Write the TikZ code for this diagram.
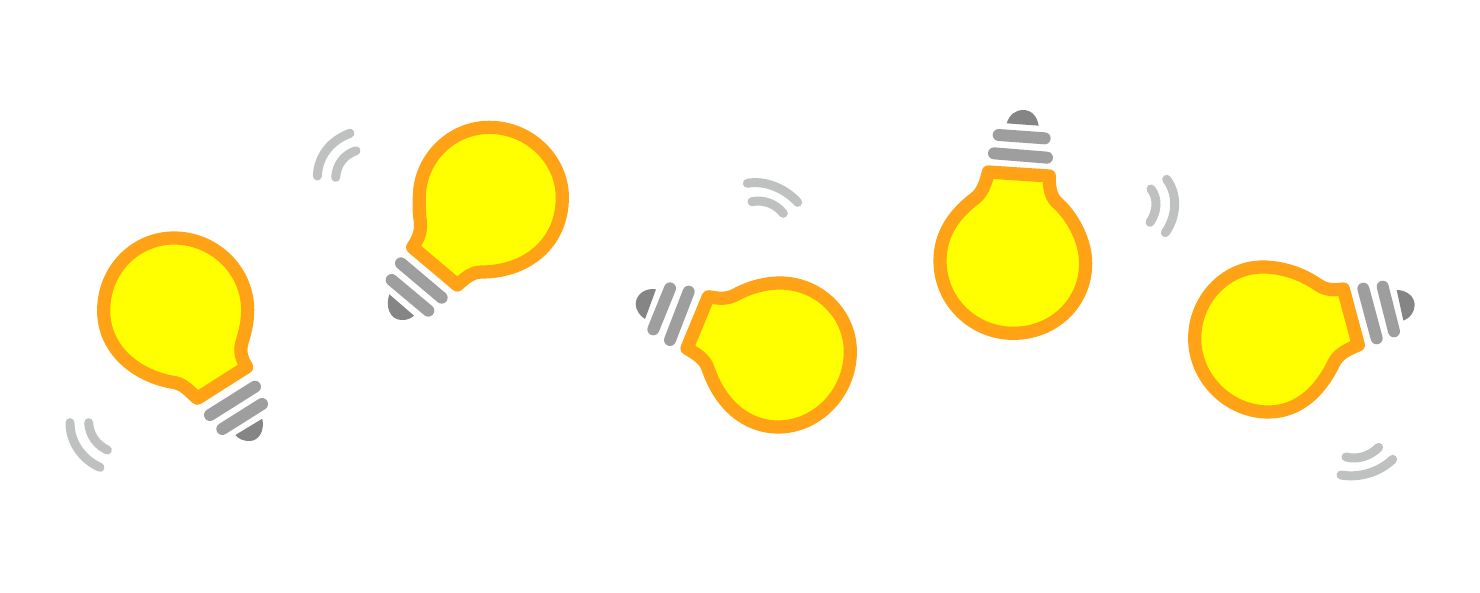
\documentclass[tikz,border=0pt]{standalone}
\definecolor{glassc}{HTML}{FFFF00}
\definecolor{rimc}{HTML}{FFA216}
\definecolor{barc}{HTML}{9E9E9E}
\definecolor{domec}{HTML}{858585}
\definecolor{wavec}{HTML}{BFC1C0}
\tikzset{
  glass/.style={fill=glassc,draw=rimc,line width=13.2pt,line join=round},
  thread/.style={draw=barc,line width=12pt,line cap=round},
  tipdome/.style={fill=domec,draw=none},
  wavearc/.style={draw=wavec,line width=9pt,line cap=round},
  zoomed/.style={x=0.33333pt,y=-0.33333pt}
}
\begin{document}
\begin{tikzpicture}[x=1pt,y=-1pt]
\useasboundingbox (0,0) rectangle (1480,592);
% bulb 1
\begin{scope}[xshift=50pt,yshift=-220pt,zoomed]
\draw[glass] (442,535) -- (590,441) .. controls (577,420) and (568,400) .. (575,370) .. controls (586,335) and (593,305) .. (593,270) .. controls (593,150) and (492,54) .. (372,54) .. controls (255,54) and (161,150) .. (161,272) .. controls (161,390) and (260,470) .. (375,488) .. controls (400,492) and (420,515) .. (442,535) -- cycle;
\draw[thread] (480,585) -- (615,500);
\draw[thread] (517,627) -- (636,552);
\fill[tipdome] (637,596) .. controls (645,635) and (625,662) .. (600,663) .. controls (585,664) and (565,658) .. (556,645) -- cycle;
\draw[wavearc] (60,608) .. controls (60,670) and (100,720) .. (150,742);
\draw[wavearc] (116,608) .. controls (118,645) and (140,675) .. (172,690);
\end{scope}
% bulb 2
\begin{scope}[xshift=300pt,yshift=-110pt,zoomed]
\draw[glass] (338,412) .. controls (352,390) and (365,370) .. (361,332) .. controls (356,305) and (358,285) .. (358,262) .. controls (358,150) and (450,52) .. (568,52) .. controls (690,52) and (787,150) .. (787,262) .. controls (787,400) and (680,486) .. (545,486) .. controls (515,486) and (495,505) .. (472,525) -- cycle;
\draw[thread] (303,460) -- (425,563);
\draw[thread] (275,510) -- (385,602);
\fill[tipdome] (268,553) .. controls (255,590) and (270,630) .. (305,630) .. controls (320,631) and (333,625) .. (342,617) -- cycle;
\draw[wavearc] (52,198) .. controls (55,135) and (95,90) .. (150,70);
\draw[wavearc] (107,202) .. controls (110,165) and (130,135) .. (168,122);
\end{scope}
% bulb 3
\begin{scope}[xshift=625pt,yshift=-170pt,zoomed]
\draw[glass] (250,380) .. controls (270,383) and (295,390) .. (325,378) .. controls (365,355) and (415,339) .. (465,339) .. controls (580,339) and (676,430) .. (676,545) .. controls (676,670) and (575,771) .. (460,771) .. controls (360,771) and (285,700) .. (250,598) .. controls (240,565) and (210,550) .. (186,535) -- cycle;
\draw[thread] (135,355) -- (85,478);
\draw[thread] (191,365) -- (135,510);
\fill[tipdome] (93,358) .. controls (60,352) and (32,375) .. (32,402) .. controls (32,420) and (45,438) .. (60,447) -- cycle;
\draw[wavearc] (367,40) .. controls (420,30) and (480,55) .. (518,97);
\draw[wavearc] (381,95) .. controls (415,88) and (450,100) .. (475,130);
\end{scope}
% bulb 4
\begin{scope}[xshift=920pt,yshift=-100pt,zoomed]
\draw[glass] (205,216) -- (388,228) .. controls (387,255) and (390,285) .. (408,305) .. controls (455,345) and (497,420) .. (497,490) .. controls (497,610) and (400,700) .. (280,700) .. controls (160,700) and (60,605) .. (60,482) .. controls (60,400) and (105,340) .. (165,295) .. controls (185,280) and (198,250) .. (205,216) -- cycle;
\draw[thread] (236,105) -- (374,115);
\draw[thread] (222,160) -- (381,173);
\fill[tipdome] (260,70) .. controls (268,45) and (285,30) .. (310,30) .. controls (335,30) and (352,50) .. (356,77) -- cycle;
\draw[wavearc] (740,238) .. controls (775,285) and (770,350) .. (736,398);
\draw[wavearc] (693,267) .. controls (715,295) and (712,335) .. (690,367);
\end{scope}
% bulb 5
\begin{scope}[xshift=1180pt,yshift=-250pt,zoomed]
\draw[glass] (490,117) .. controls (465,120) and (440,122) .. (415,105) .. controls (365,70) and (305,51) .. (248,51) .. controls (135,51) and (44,150) .. (44,265) .. controls (44,385) and (145,486) .. (265,486) .. controls (355,486) and (420,425) .. (462,338) .. controls (475,310) and (510,295) .. (535,285) -- cycle;
\draw[thread] (550,116) -- (590,265);
\draw[thread] (608,110) -- (642,244);
\fill[tipdome] (650,120) .. controls (680,120) and (704,140) .. (704,165) .. controls (704,185) and (690,205) .. (670,212) -- cycle;
\draw[wavearc] (483,675) .. controls (540,685) and (600,665) .. (638,628);
\draw[wavearc] (498,621) .. controls (535,630) and (570,618) .. (596,592);
\end{scope}
\end{tikzpicture}
\end{document}
